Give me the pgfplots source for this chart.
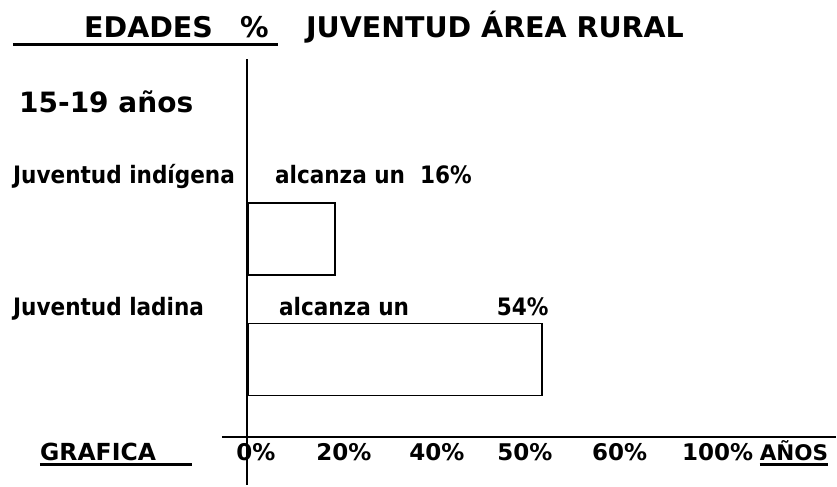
\documentclass[border=0pt]{standalone}
\usepackage{fontspec}
\setmainfont{DejaVu Sans}
\newfontfamily\condf{DejaVu Sans Condensed}
\usepackage{pgfplots}
\pgfplotsset{compat=1.18}

\begin{document}
\begin{tikzpicture}
\begin{axis}[
    scale only axis,
    width=837bp, height=486bp,
    xmin=-45.50, xmax=108.07,
    ymin=0, ymax=486,
    axis line style={draw=none},
    major tick length=0pt,
    ytick=\empty,
    xtick={1.47,17.61,34.68,50.83,68.26,86.24},
    xticklabels={0\%,20\%,40\%,50\%,60\%,100\%},
    xticklabel style={anchor=base, yshift=25bp, inner sep=0pt,
        font=\fontsize{23bp}{25bp}\selectfont\bfseries},
    clip=false,
    ]
    % y runs in px from the bottom of the picture
    \addplot[xbar, bar width=72, draw=black, fill=white, line width=1.5bp]
        coordinates {(16,247) (54,126.5)};
\end{axis}

\begin{scope}[shift={(current axis.north west)}, inner sep=0pt]
    \tikzset{
        big/.style={font=\fontsize{28.5bp}{30bp}\selectfont\bfseries},
        lab/.style={font=\condf\fontsize{24bp}{26bp}\selectfont\bfseries},
        tck/.style={font=\fontsize{23.5bp}{26bp}\selectfont\bfseries},
    }
    % title
    \node[big, anchor=base west] at (84bp,-37bp) {EDADES};
    \node[big, anchor=base west] at (240bp,-37bp) {\%};
    \node[big, anchor=base west] at (306bp,-37bp) {JUVENTUD ÁREA RURAL};
    \draw[line width=3bp] (13bp,-44bp) -- (278bp,-44bp);

    \node[font=\fontsize{28bp}{30bp}\selectfont\bfseries, anchor=base west]
        at (19bp,-112.5bp) {15-19 años};

    \node[lab, anchor=base west] at (13bp,-183bp) {Juventud indígena};
    \node[lab, anchor=base west] at (275bp,-183bp) {alcanza un\ \ 16\%};
    \node[lab, anchor=base west] at (13bp,-316bp) {Juventud ladina};
    \node[lab, anchor=base west] at (279bp,-316bp) {alcanza un};
    \node[lab, anchor=base east] at (549bp,-316bp) {54\%};

    % axes
    \draw[line width=1.8bp] (247bp,-59bp) -- (247bp,-485.5bp);
    \draw[line width=1.8bp] (222bp,-437bp) -- (836.5bp,-437bp);

    \node[tck, anchor=base west] at (40bp,-461bp) {GRAFICA};
    \draw[line width=2.5bp] (40bp,-464.5bp) -- (192bp,-464.5bp);
    \node[font=\fontsize{21.5bp}{24bp}\selectfont\bfseries, anchor=base west]
        at (760bp,-461bp) {AÑOS};
    \draw[line width=2.5bp] (760bp,-464.5bp) -- (828bp,-464.5bp);
\end{scope}
\end{tikzpicture}
\end{document}
